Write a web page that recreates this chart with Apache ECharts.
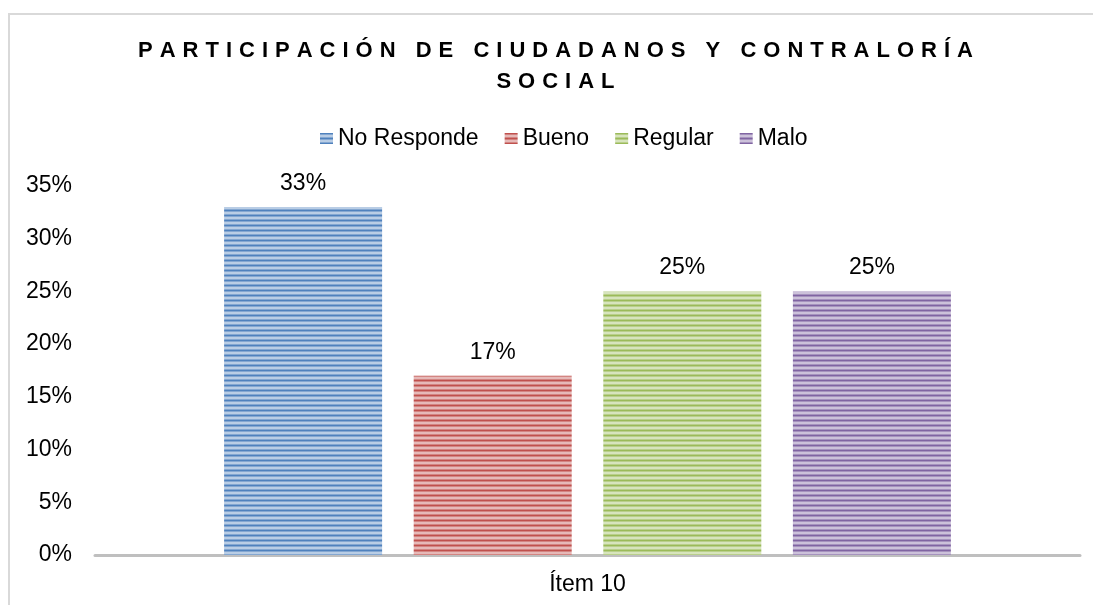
<!DOCTYPE html>
<html>
<head>
<meta charset="utf-8">
<script src="https://cdn.jsdelivr.net/npm/echarts@6/dist/echarts.min.js"></script>
<style>
  html, body { margin: 0; padding: 0; background: #fff; }
  #chart { width: 1093px; height: 605px; }
</style>
</head>
<body>
<div id="chart"></div>
<script>
// datos del gráfico
var titleLines = ['PARTICIPACIÓN DE CIUDADANOS Y CONTRALORÍA', 'SOCIAL'];
var categories = ['Ítem 10'];
var seriesNames = ['No Responde', 'Bueno', 'Regular', 'Malo'];
var seriesValues = [[33], [17], [25], [25]];
var seriesColors = ['#4f81bd', '#c0504d', '#9bbb59', '#8064a2'];
var yTicks = { min: 0, max: 35, interval: 5 };

var FONT = '"Liberation Sans", Arial, sans-serif';

function mix(hex, t) {
    // mezcla con blanco, t = 0 color pleno, 1 blanco
    var r = parseInt(hex.substr(1, 2), 16), g = parseInt(hex.substr(3, 2), 16), b = parseInt(hex.substr(5, 2), 16);
    r = Math.round(r + (255 - r) * t); g = Math.round(g + (255 - g) * t); b = Math.round(b + (255 - b) * t);
    return 'rgb(' + r + ',' + g + ',' + b + ')';
}

function stripes(hex) {
    var c = document.createElement('canvas');
    c.width = 4; c.height = 5;
    var ctx = c.getContext('2d');
    var rows = [0, 0.3, 0.6, 0.6, 0.3];
    for (var i = 0; i < rows.length; i++) {
        ctx.fillStyle = mix(hex, rows[i]);
        ctx.fillRect(0, i, 4, 1);
    }
    return { image: c, repeat: 'repeat' };
}

function spaced(str) {
    return str.split('').map(function (ch) { return '{c|' + ch + '}'; }).join('');
}

var myChart = echarts.init(document.getElementById('chart'));

var series = [];
for (var i = 0; i < seriesNames.length; i++) {
    series.push({
        name: seriesNames[i],
        type: 'bar',
        data: seriesValues[i],
        barWidth: 158,
        barGap: '20%',
        itemStyle: { color: stripes(seriesColors[i]) },
        label: {
            show: true,
            position: 'top',
            distance: 12,
            formatter: '{c}%',
            color: '#000',
            fontSize: 23,
            fontFamily: FONT
        }
    });
}

var option = {
    animation: false,
    backgroundColor: '#fff',
    title: {
        text: titleLines.map(spaced).join('\n'),
        left: 559,
        top: 35,
        padding: 0,
        textAlign: 'center',
        textStyle: {
            fontFamily: FONT,
            fontWeight: 'bold',
            fontSize: 22,
            lineHeight: 31,
            color: '#000',
            rich: {
                c: {
                    fontFamily: FONT,
                    fontWeight: 'bold',
                    fontSize: 22,
                    lineHeight: 31,
                    color: '#000',
                    padding: [0, 7, 0, 0]
                }
            }
        }
    },
    legend: {
        data: seriesNames,
        left: 315,
        top: 122,
        itemWidth: 13,
        itemHeight: 11,
        itemGap: 26,
        icon: 'rect',
        textStyle: { fontFamily: FONT, fontSize: 23, color: '#000' }
    },
    grid: { left: 95, right: 13, top: 186, bottom: 50, containLabel: false },
    xAxis: {
        type: 'category',
        data: categories,
        axisLine: { lineStyle: { color: '#bfbfbf', width: 3 } },
        axisTick: { show: false },
        axisLabel: { fontFamily: FONT, fontSize: 23, color: '#000', margin: 18 }
    },
    yAxis: {
        type: 'value',
        min: yTicks.min,
        max: yTicks.max,
        interval: yTicks.interval,
        splitLine: { show: false },
        axisLine: { show: false },
        axisTick: { show: false },
        axisLabel: { formatter: '{value}%', fontFamily: FONT, fontSize: 23, color: '#000', margin: 23 }
    },
    graphic: [{
        type: 'rect',
        shape: { x: 9, y: 14, width: 1200, height: 800 },
        style: { fill: null, stroke: '#d9d9d9', lineWidth: 2 },
        silent: true,
        z: -10
    }],
    series: series
};

myChart.setOption(option);
</script>
</body>
</html>
